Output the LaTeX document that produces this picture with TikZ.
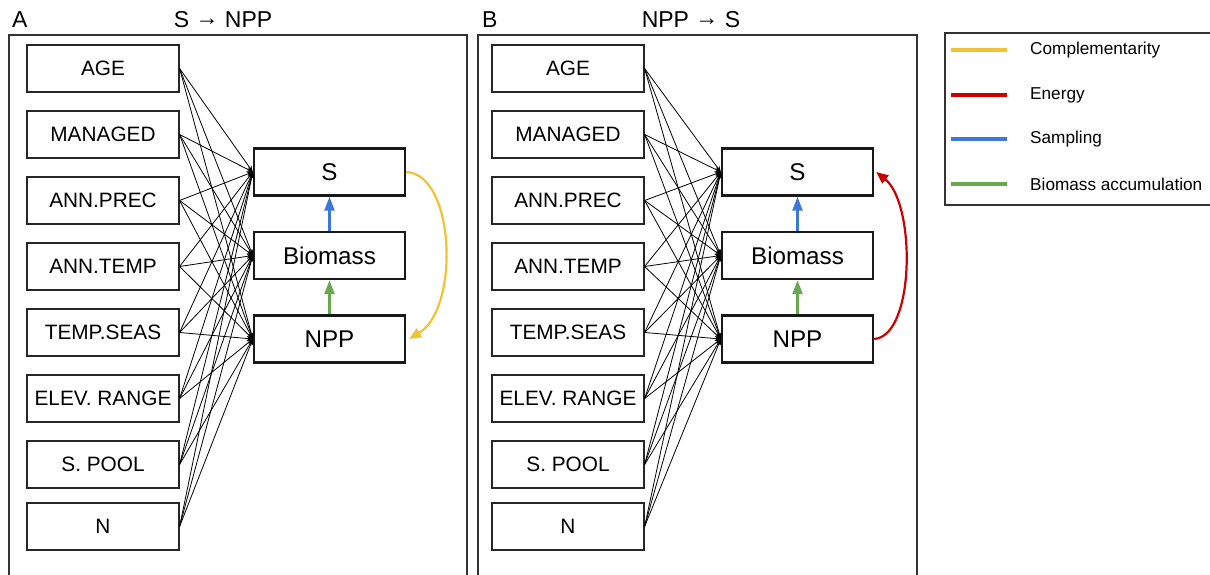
\documentclass[tikz,border=0pt]{standalone}
\usepackage{fontspec}
\setmainfont{Liberation Sans}
\usetikzlibrary{arrows.meta}
\definecolor{cyel}{HTML}{F1C232}
\definecolor{cred}{HTML}{CC0000}
\definecolor{cblue}{HTML}{3C78D8}
\definecolor{cgreen}{HTML}{6AA84F}
\definecolor{frm}{HTML}{333333}
\newcommand{\myarr}{\raisebox{2.5pt}{→}}
\begin{document}
\begin{tikzpicture}[x=1pt,y=-1pt,
  pred/.style={draw=black!85, line width=1.2pt, minimum width=152pt, minimum height=47pt, inner sep=0pt, font=\fontsize{20.8}{24}\selectfont},
  targ/.style={draw=black!90, line width=2.4pt, minimum width=151pt, minimum height=47pt, inner sep=0pt, font=\fontsize{24.2}{28}\selectfont},
  panel/.style={draw=frm, line width=1.2pt},
  edge/.style={black, line width=0.8pt, -{Stealth[length=6pt,width=5pt]}},
  vert/.style={line width=2.4pt, -{Triangle[length=14pt,width=10pt]}},
  curv/.style={line width=2.2pt, -{Triangle[length=12pt,width=10pt]}},
  ttl/.style={font=\fontsize{23}{27}\selectfont, inner sep=0pt},
  legtext/.style={font=\fontsize{17.2}{20}\selectfont, anchor=west, inner sep=0pt},
  legline/.style={line width=4.8pt}
]
\useasboundingbox (0,0) rectangle (1210,575);

% panels
\draw[panel] (9,35) rectangle (467,600);
\draw[panel] (478,35) rectangle (917,600);
\draw[panel] (945,33) rectangle (1230,205);

% titles
\node[ttl, anchor=west] (tA) at (12,20) {A};
\node[ttl] (tSN) at (223,20) {S \myarr{} NPP};
\node[ttl, anchor=west] (tB) at (482,20) {B};
\node[ttl] (tNS) at (691,20) {NPP \myarr{} S};

% predictors
\foreach \y/\lab [count=\i] in {68.5/AGE, 134.5/MANAGED, 200.5/ANN.PREC, 266.5/ANN.TEMP, 332.5/TEMP.SEAS, 398.5/ELEV. RANGE, 464.5/S. POOL, 526.5/N}{
  \node[pred] (A-p\i) at (103,\y) {\lab};
  \node[pred] (B-p\i) at (568,\y) {\lab};
}

% targets
\node[targ] (A-S) at (329.5,172) {S};
\node[targ] (A-M) at (329.5,255.5) {Biomass};
\node[targ] (A-N) at (329.5,339) {NPP};
\node[targ] (B-S) at (797.5,172) {S};
\node[targ] (B-M) at (797.5,255.5) {Biomass};
\node[targ] (B-N) at (797.5,339) {NPP};

% predictor edges
\foreach \i in {1,...,8}{
  \foreach \t in {S,M,N}{
    \draw[edge] (A-p\i.east) -- (A-\t.west);
    \draw[edge] (B-p\i.east) -- (B-\t.west);
  }
}

% internal arrows
\draw[vert, cblue] (A-M.north) -- (A-S.south);
\draw[vert, cgreen] (A-N.north) -- (A-M.south);
\draw[vert, cblue] (B-M.north) -- (B-S.south);
\draw[vert, cgreen] (B-N.north) -- (B-M.south);

\draw[curv, cyel] (A-S.east) .. controls (455,174) and (460,308) .. ([xshift=3pt]A-N.east);
\draw[curv, cred] (B-N.east) .. controls (915,336) and (916,204) .. ([xshift=2pt]B-S.east);

% legend
\foreach \y/\c/\lab [count=\i] in {50/cyel/Complementarity, 95/cred/Energy, 139/cblue/Sampling, 184/cgreen/Biomass accumulation}{
  \coordinate (ls\i) at (951,\y);
  \coordinate (le\i) at (1007,\y);
  \draw[legline, \c] (ls\i) -- (le\i);
  \node[legtext] (lt\i) at (1030,\y) {\lab};
}
\end{tikzpicture}
\end{document}
